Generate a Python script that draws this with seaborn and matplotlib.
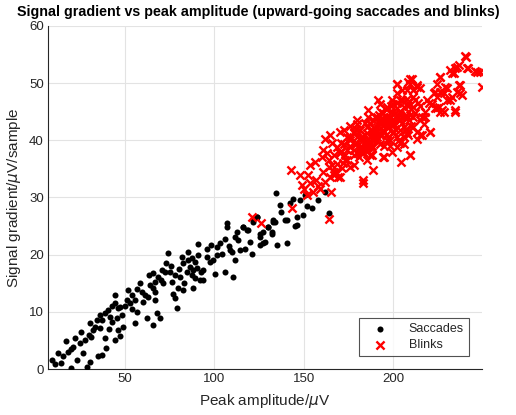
import numpy as np
import pandas as pd
import matplotlib
matplotlib.use("Agg")
import matplotlib.pyplot as plt
import seaborn as sns

# ---- data ----
sacc_x = [9.5, 10.8, 15.5, 17, 19.8, 21, 22, 23, 19.8, 24.8, 26.5, 27.6, 28.6, 30.4, 29.9, 31.3,
          30.4, 33.2, 34.2, 36, 37, 35, 37, 39.7, 38.8, 38.8, 40.7, 41.6, 42.6, 44.4, 44.4, 46.3,
          47.2, 48.1, 46.3, 44.4, 47.2, 49.1, 50.9, 51.8, 52.8, 53.7, 55.6, 56.5, 58.4, 59.3, 60.2,
          55.6, 62.1, 63, 64, 65.8, 66.8, 65.8, 66.8, 65.8, 67.7, 69.6, 68.6, 70.5, 72.4, 71.4,
          74.2, 75.2, 76.1, 77, 78, 78.9, 78, 80.8, 79.8, 82.6, 81.7, 82.6, 84.5, 85.4, 87.3, 86.4,
          87.3, 88.2, 89.2, 88.2, 90.1, 91, 92, 93.8, 93.8, 91, 95.7, 97.6, 98, 100.4, 101.3, 101.3,
          104.1, 106, 106, 106.9, 106.9, 108.8, 109.7, 110.6, 111.6, 111.6, 112.5, 114.4, 116.2,
          119, 119.9, 120.9, 121.8, 123.7, 125.5, 125.5, 127.4, 128.3, 130.2, 132.1, 133, 133.9,
          134.9, 136.7, 140.5, 140.5, 134.5, 142.3, 143.8, 148, 150.7, 149.8, 146.1, 154.5, 162,
          163.8, 139.5, 146.1, 133, 132.1, 130.2, 125.5, 121.8, 123.7, 118.1, 116.2,
          12.5, 14, 18, 25.5, 32, 36, 41, 43, 45.5, 50, 54, 57, 61, 63.5, 67, 70, 73, 76, 80, 83,
          85, 89, 92.5, 96, 99, 103, 108, 113, 117, 127, 137, 145, 152, 158]
sacc_y = [1.6, 0.9, 2.3, 4.9, 3.5, 3.9, 5.4, 1.6, 0.2, 4.5, 2.8, 5.1, 0.4, 1.3, 5.9, 5.6,
          8.0, 7.4, 8.6, 7.2, 8.6, 2.2, 2.4, 3.7, 5.4, 9.8, 10.3, 9.1, 8.3, 11.5, 12.9, 10.6,
          10.9, 9.4, 6.8, 5.1, 5.7, 7.4, 12.1, 13.8, 11.5, 12.9, 12.1, 10.0, 15.0, 13.5, 11.8,
          8.0, 8.9, 12.6, 14.7, 14.2, 15.3, 16.8, 12.1, 7.7, 9.8, 8.9, 16.1, 17.3, 17.0, 15.0,
          20.3, 17.0, 15.3, 13.2, 12.4, 10.6, 16.4, 16.1, 14.1, 13.8, 19.6, 18.5, 17.0, 19.1, 19.4, 17.9,
          16.4, 17.3, 15.9, 14.1, 17.6, 19.9, 15.6, 17.3, 15.6, 21.8, 19.6, 18.8, 21.7, 16.7, 19.9, 21.4,
          20.2, 22.8, 17.0, 25.5, 24.9, 20.8, 20.5, 16.1, 19.1, 23.1, 24.0, 20.8, 24.9,
          24.3, 22.3, 20.2, 26.0, 26.6, 23.1, 21.7, 24.0, 22.3, 24.9, 23.7, 26.0, 25.7,
          21.7, 28.7, 22.0, 26.0, 30.8, 29.0, 29.7, 29.5, 30.4, 26.9, 26.6, 28.1, 31.0,
          27.3, 26.0, 25.2, 25.7, 24.0, 24.9, 23.7, 25.7, 26.6, 24.3, 24.9,
          2.8, 1.0, 3.0, 6.5, 6.8, 9.5, 7.0, 11.0, 9.0, 11.0, 10.5, 14.0, 13.0, 16.5, 13.5, 15.5,
          18.5, 18.0, 17.5, 15.0, 20.5, 18.8, 17.0, 21.0, 19.0, 22.0, 21.5, 22.5, 21.0, 22.0, 27.5, 25.0, 28.5, 29.5]

blink_x = [143.3, 164.3, 120.9, 126, 142.7, 148, 148.9, 152.6, 153.5, 155.4, 153.5, 156.3, 161,
           160.1, 162, 164.7, 163.8, 162, 164.7, 166.6, 165.7, 170.3, 171.2, 170.3, 172.2, 174,
           175.9, 177.8, 173.1, 178.7, 179.7, 183.3, 183.3, 185.2, 186.1, 188, 188.9, 191.7, 192.7,
           194.5, 197.3, 202, 204.4, 209.5, 208.5, 210.4, 213.2, 212.2, 216, 220.7, 223.5, 226.3,
           227.2, 234.7, 229.1, 233.7, 234.7, 236.5, 239.9, 241.2, 246.8, 249.6, 237.4, 238.3,
           231.9, 226.3, 224.4, 221.6, 218.8, 215.1, 209.5, 202, 203.9, 205.8, 207.7, 209.5, 211.3,
           213.2, 207.7, 205.8, 202, 199.2, 196.4, 192.7, 190.8, 188.9, 185.2, 182.4, 181.5, 177.8,
           175.9, 174, 170.3, 168.5, 166.6, 168.5, 163.8, 161, 162.9, 183.3, 185.2, 188.9, 192.7,
           194.5, 196.4, 200.1, 200.1, 198.3, 201.1, 203.9, 204.8, 202, 199.2, 196.4, 194.5, 190.8,
           187.1, 181.5, 179.7, 177.8, 175.9, 172.2, 192.7, 196.4, 188, 189.8, 185.2, 186.1, 179.7,
           183.3, 203.9, 205.8, 207.7, 211.3, 215.1, 216.9, 217.9, 222.5, 224.4, 228.1, 230, 232.8,
           231.9, 235.6, 225.3, 228.1, 211.3, 207.7, 200.1, 209.5, 220.7, 215.1, 213.2, 248.7,
           245.9, 240.8, 241.7, 235.6, 232.8, 226.3, 234.7, 237.4, 236.5, 224.4, 226.3, 230, 223.5,
           209.5, 213.2, 202,
           # dense core
           180, 182, 184, 186, 188, 190, 192, 194, 196, 198, 200, 202, 204, 206, 208, 210,
           181, 183, 185, 187, 189, 191, 193, 195, 197, 199, 201, 203, 205, 207, 209, 211,
           184, 187, 190, 193, 196, 199, 202, 205, 208, 178, 176, 174, 172, 170, 168, 166,
           179, 183, 187, 191, 195, 199, 203, 207, 211, 215, 218, 214, 197, 193, 189, 185,
           171, 173, 176, 180, 184, 188, 192, 196, 200, 204, 208, 212, 216, 220, 195, 190,
           186, 182, 178, 198, 202, 206, 210, 194, 198, 204, 182, 188, 200, 176, 169, 158,
           157, 159, 165, 167, 152, 150]
blink_y = [28.1, 26.3, 26.6, 25.5, 34.8, 33.9, 32.2, 33.9, 32.5, 31.0, 35.7, 36.2, 38.3,
           37.1, 40.3, 40.9, 36.5, 32.7, 33.6, 34.5, 35.7, 33.6, 35.1, 41.5, 41.8, 40.6,
           35.4, 35.7, 37.4, 39.4, 42.9, 33.0, 32.5, 36.5, 45.3, 38.6, 34.8, 47.0, 46.4,
           37.1, 42.9, 49.9, 36.2, 37.4, 50.2, 50.8, 49.7, 44.7, 40.9, 41.5, 45.6, 51.1,
           45.3, 45.0, 49.4, 51.7, 52.6, 53.1, 54.7, 52.6, 52.0, 49.4, 49.7, 47.9,
           47.0, 48.5, 47.6, 46.4, 47.0, 49.1, 49.9, 45.6, 43.5, 45.9, 47.3, 44.4, 42.4,
           41.5, 41.2, 39.4, 38.9, 38.0, 40.0, 41.2, 42.4, 43.5, 42.4, 40.6, 38.9, 38.3,
           38.9, 38.3, 37.7, 38.9, 37.4, 35.9, 35.4, 34.5, 37.7, 40.0, 39.4, 40.0, 39.4,
           41.8, 42.4, 42.9, 41.2, 44.1, 44.7, 47.0, 48.8, 48.2, 47.0, 45.9, 44.7, 44.1,
           42.9, 41.8, 40.6, 41.2, 40.0, 39.4, 43.5, 44.1, 41.8, 41.2, 41.2, 38.9, 37.7,
           37.7, 41.8, 42.4, 44.1, 45.9, 43.5, 42.9, 45.0, 48.2, 49.9, 48.2, 47.0, 47.6,
           52.3, 48.5, 45.9, 45.0, 48.8, 48.8, 46.4, 37.5, 41.4, 40.9, 40.3, 52.0,
           52.1, 54.6, 52.6, 52.9, 51.7, 51.1, 45.3, 48.2, 49.7, 45.6, 45.0, 49.1, 48.5,
           50.8, 49.4, 49.9,
           39.5, 40.5, 41.0, 40.0, 41.5, 42.0, 43.0, 42.5, 43.5, 44.0, 43.0, 44.5, 45.0, 44.0, 46.0, 45.5,
           37.0, 38.0, 39.0, 39.5, 40.5, 40.0, 41.0, 41.5, 42.5, 43.0, 42.0, 43.5, 43.0, 44.5, 43.5, 44.0,
           43.0, 43.0, 44.0, 45.0, 45.5, 46.0, 46.5, 47.0, 46.5, 37.5, 39.0, 36.5, 36.0, 38.0, 34.5, 39.5,
           42.0, 38.5, 37.5, 40.5, 39.0, 45.0, 40.0, 42.0, 47.5, 46.0, 44.0, 46.5, 43.5, 43.0, 40.0, 38.5,
           39.5, 36.5, 40.5, 43.5, 39.5, 39.0, 44.5, 41.0, 41.5, 44.5, 41.0, 47.0, 44.0, 46.5, 37.0, 41.5,
           44.0, 39.0, 41.5, 39.0, 40.5, 40.5, 42.5, 43.5, 40.0, 39.5, 38.0, 37.5, 43.5, 42.5, 33.5, 32.0,
           33.0, 31.5, 31.0, 34.0, 30.5, 31.5]

xticks = [50, 100, 150, 200]
yticks = [0, 10, 20, 30, 40, 50, 60]

sacc = pd.DataFrame({"x": sacc_x, "y": sacc_y})
blink = pd.DataFrame({"x": blink_x, "y": blink_y})

sns.set_style("white")
plt.rcParams["font.family"] = ["Liberation Sans", "DejaVu Sans"]
plt.rcParams["mathtext.fontset"] = "dejavusans"

fig = plt.figure(figsize=(5.16, 4.15), dpi=100)
ax = fig.add_axes([48 / 516, 1 - 369 / 415, 434 / 516, 343 / 415])

sns.scatterplot(data=sacc, x="x", y="y", ax=ax, marker="o", s=19, color="black",
                edgecolor="black", linewidth=0, label="Saccades", zorder=3)
sns.scatterplot(data=blink, x="x", y="y", ax=ax, marker="x", s=34, color="#ff0000",
                linewidth=1.7, label="Blinks", zorder=4)

ax.set_xlim(7, 249.6)
ax.set_ylim(0, 60)
ax.set_xticks(xticks)
ax.set_yticks(yticks)
ax.grid(True, color="#e3e3e3", linewidth=0.8)
ax.set_axisbelow(True)
for s in ["top", "right"]:
    ax.spines[s].set_visible(False)
for s in ["left", "bottom"]:
    ax.spines[s].set_color("#262626")
    ax.spines[s].set_linewidth(0.8)
ax.tick_params(direction="in", length=4, width=0.8, color="#262626",
               labelsize=9.5, labelcolor="#262626", pad=3)

ax.set_xlabel(r"Peak amplitude/$\mu$V", fontsize=11, color="#262626", labelpad=5)
ax.set_ylabel(r"Signal gradient/$\mu$V/sample", fontsize=11, color="#262626", labelpad=4)
fig.text(258 / 516, 1 - 12 / 415, "Signal gradient vs peak amplitude (upward-going saccades and blinks)",
         ha="center", va="center", fontsize=10.3, fontweight="bold", color="black")

leg = ax.legend(loc="lower right", bbox_to_anchor=(0.970, 0.038), borderaxespad=0,
                frameon=True, fancybox=False, fontsize=9, handletextpad=1.0,
                borderpad=0.4, labelspacing=0.3, handlelength=2.6)
leg.get_frame().set_edgecolor("#262626")
leg.get_frame().set_linewidth(0.8)

fig.savefig("out.png", dpi=100, facecolor="white")
